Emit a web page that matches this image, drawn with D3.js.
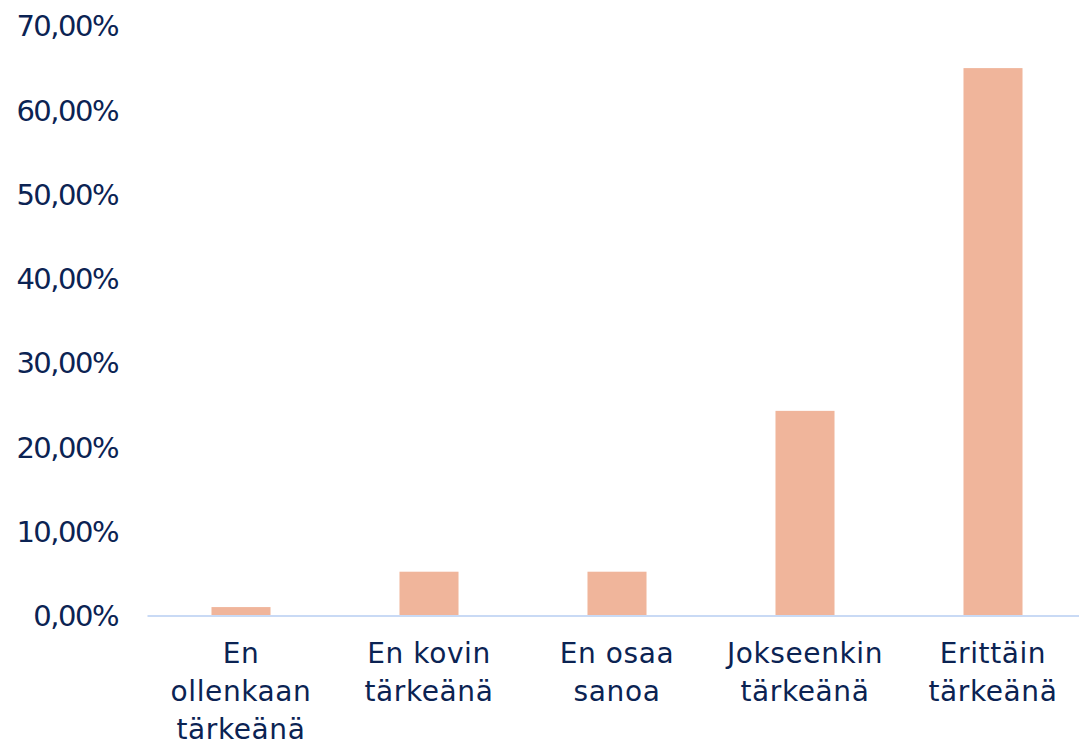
<!DOCTYPE html>
<html>
<head>
<meta charset="utf-8">
<script src="https://cdn.jsdelivr.net/npm/d3@7"></script>
<style>
  body { margin: 0; background: #fff; }
  svg { display: block; }
  text { font-family: "DejaVu Sans", Verdana, sans-serif; fill: #0b2353; }
</style>
</head>
<body>
<svg class="chart" width="1079" height="746"></svg>
<script>
// data
var categories = ["En ollenkaan tärkeänä", "En kovin tärkeänä", "En osaa sanoa", "Jokseenkin tärkeänä", "Erittäin tärkeänä"];
var labelLines = [["En", "ollenkaan", "tärkeänä"], ["En kovin", "tärkeänä"], ["En osaa", "sanoa"], ["Jokseenkin", "tärkeänä"], ["Erittäin", "tärkeänä"]];
var values = [0.010, 0.052, 0.052, 0.243, 0.650];
var yTicks = [0, 0.1, 0.2, 0.3, 0.4, 0.5, 0.6, 0.7];

var svg = d3.select(".chart");

var x = d3.scaleBand()
    .domain(categories)
    .range([147, 1087])
    .paddingInner(0.686)
    .paddingOuter(0.343);

var y = d3.scaleLinear()
    .domain([0, 0.7])
    .range([615.5, 26]);

var fiLocale = d3.formatLocale({ decimal: ",", thousands: " ", grouping: [3], currency: ["", "€"] });
var pct = fiLocale.format(".2%");

// y labels (no axis line)
svg.selectAll(".ylab")
    .data(yTicks)
    .enter().append("text")
    .attr("class", "ylab")
    .attr("x", 118)
    .attr("y", function (d) { return y(d); })
    .attr("dy", "0.36em")
    .attr("text-anchor", "end")
    .style("font-size", "29px")
    .style("letter-spacing", "-1.5px")
    .text(function (d) { return pct(d); });

// bars
svg.selectAll(".bar")
    .data(values)
    .enter().append("rect")
    .attr("class", "bar")
    .attr("x", function (d, i) { return x(categories[i]); })
    .attr("y", function (d) { return y(d); })
    .attr("width", x.bandwidth())
    .attr("height", function (d) { return y(0) - y(d); })
    .attr("fill", "#f0b59b");

// x axis line
var xAxis = svg.append("g")
    .attr("transform", "translate(0," + y(0) + ")")
    .call(d3.axisBottom(x).tickSize(0).tickFormat(""));
xAxis.select(".domain").attr("stroke", "#c9daf5").attr("stroke-width", 2);

// category labels
var lab = svg.selectAll(".xlab")
    .data(categories)
    .enter().append("text")
    .attr("class", "xlab")
    .attr("text-anchor", "middle")
    .style("font-size", "28px")
    .style("letter-spacing", "0.6px")
    .attr("transform", function (d) { return "translate(" + (x(d) + x.bandwidth() / 2) + ",663)"; });

lab.selectAll("tspan")
    .data(function (d, i) { return labelLines[i]; })
    .enter().append("tspan")
    .attr("x", 0)
    .attr("y", function (d, i) { return i * 38; })
    .text(function (d) { return d; });
</script>
</body>
</html>
